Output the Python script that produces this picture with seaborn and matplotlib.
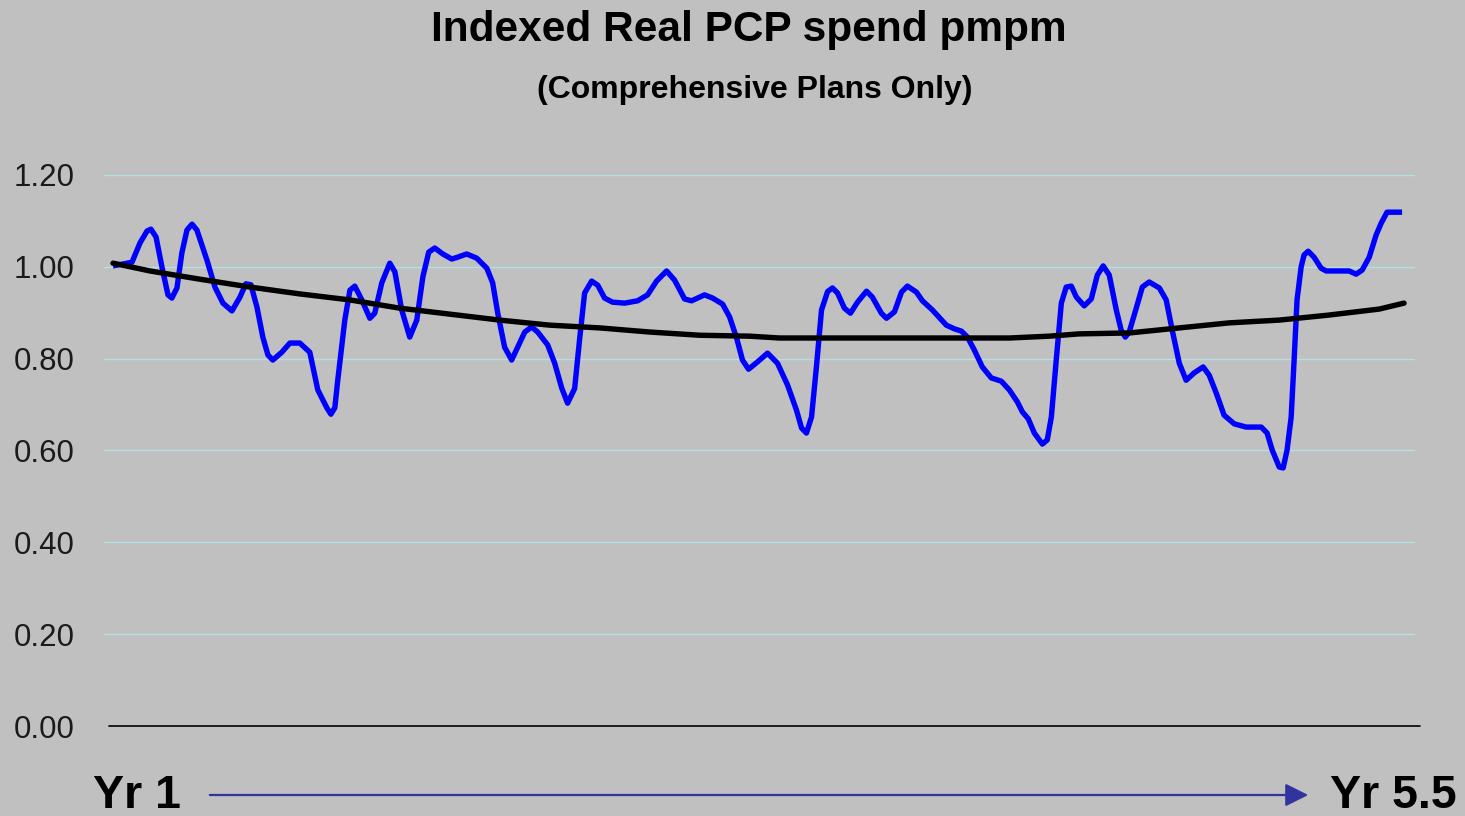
import pandas as pd
import matplotlib.pyplot as plt
from matplotlib.patches import FancyArrowPatch
import seaborn as sns

# months since start of Yr 1
spend_month = [0.00, 0.97, 1.38, 1.74, 1.94, 2.20, 2.50, 2.81, 3.01, 3.27, 3.52, 3.78, 4.04,
               4.29, 4.80, 5.21, 5.62, 6.08, 6.49, 6.79, 7.05, 7.36, 7.66, 7.92, 8.17, 8.63,
               9.04, 9.55, 10.06, 10.47, 10.93, 11.14, 11.34, 11.49, 11.85, 12.11, 12.36,
               12.72, 13.13, 13.38, 13.74, 14.15, 14.41, 14.76, 15.17, 15.53, 15.84, 16.14,
               16.45, 16.86, 17.32, 17.62, 18.08, 18.59, 19.11, 19.41, 19.67, 20.02, 20.38,
               20.69, 21.05, 21.40, 21.71, 22.22, 22.58, 22.94, 23.24, 23.60, 23.86, 24.11,
               24.47, 24.78, 25.13, 25.54, 26.16, 26.82, 27.33, 27.79, 28.30, 28.71, 29.22,
               29.58, 30.24, 30.65, 31.16, 31.52, 31.88, 32.18, 32.49, 32.95, 33.46, 33.97,
               34.48, 34.94, 35.20, 35.45, 35.71, 35.96, 36.22, 36.53, 36.78, 37.04, 37.39,
               37.70, 38.06, 38.52, 38.82, 39.28, 39.54, 39.95, 40.31, 40.61, 41.07, 41.38,
               41.89, 42.60, 43.01, 43.37, 43.68, 44.03, 44.44, 44.90, 45.41, 45.82, 46.23,
               46.49, 46.79, 47.10, 47.51, 47.76, 47.97, 48.22, 48.48, 48.73, 48.99, 49.25,
               49.65, 50.01, 50.32, 50.62, 50.93, 51.29, 51.54, 51.75, 51.95, 52.31, 52.62,
               52.97, 53.49, 53.84, 54.15, 54.51, 54.86, 55.27, 55.73, 56.04, 56.40, 56.80,
               57.32, 57.93, 58.70, 59.00, 59.26, 59.62, 59.82, 60.02, 60.23, 60.38, 60.53,
               60.74, 60.89, 61.10, 61.40, 61.76, 62.02, 63.19, 63.55, 63.86, 64.22, 64.57,
               64.83, 65.13, 65.90]
spend_index = [1.002, 1.010, 1.052, 1.078, 1.082, 1.065, 1.000, 0.939, 0.932, 0.954, 1.030, 1.080, 1.093,
               1.080, 1.015, 0.956, 0.921, 0.904, 0.934, 0.963, 0.961, 0.912, 0.847, 0.808, 0.797, 0.814,
               0.834, 0.834, 0.814, 0.732, 0.693, 0.679, 0.693, 0.753, 0.884, 0.949, 0.958,
               0.928, 0.888, 0.899, 0.965, 1.008, 0.989, 0.906, 0.847, 0.884, 0.978, 1.032,
               1.041, 1.028, 1.017, 1.021, 1.028, 1.019, 0.997, 0.965, 0.899, 0.825, 0.797,
               0.825, 0.858, 0.869, 0.858, 0.830, 0.790, 0.736, 0.703, 0.735, 0.845, 0.943,
               0.969, 0.960, 0.932, 0.923, 0.921, 0.926, 0.939, 0.969, 0.991, 0.971, 0.930,
               0.926, 0.939, 0.932, 0.919, 0.891, 0.845, 0.797, 0.777, 0.793, 0.812, 0.790,
               0.743, 0.688, 0.649, 0.638, 0.673, 0.782, 0.906, 0.946, 0.954, 0.943, 0.910,
               0.899, 0.923, 0.947, 0.934, 0.899, 0.888, 0.902, 0.945, 0.958, 0.945, 0.926,
               0.906, 0.873, 0.865, 0.860, 0.847, 0.819, 0.782, 0.758, 0.751, 0.732, 0.706,
               0.684, 0.669, 0.638, 0.614, 0.623, 0.673, 0.797, 0.921, 0.956, 0.958, 0.934,
               0.915, 0.930, 0.982, 1.002, 0.982, 0.906, 0.862, 0.847, 0.858, 0.910, 0.956,
               0.967, 0.954, 0.928, 0.862, 0.790, 0.753, 0.769, 0.782, 0.764, 0.725, 0.677,
               0.658, 0.651, 0.651, 0.638, 0.601, 0.564, 0.562, 0.601, 0.673, 0.797, 0.928,
               1.000, 1.026, 1.034, 1.021, 0.997, 0.991, 0.991, 0.984, 0.993, 1.021, 1.069,
               1.095, 1.119, 1.119]

trend_month = [0.0, 1.89, 4.45, 7.0, 9.55, 12.1, 14.66, 17.21, 19.77, 22.32, 24.88, 27.43,
               29.99, 32.54, 34.07, 45.82, 47.87, 49.40, 51.96, 54.51, 57.07, 59.62, 62.17,
               64.73, 66.0]
trend_index = [1.008, 0.991, 0.973, 0.956, 0.941, 0.928, 0.910, 0.897, 0.884, 0.873, 0.867, 0.858,
               0.851, 0.849, 0.845, 0.845, 0.849, 0.854, 0.856, 0.867, 0.878, 0.884, 0.895,
               0.908, 0.921]

y_ticks = [0.0, 0.2, 0.4, 0.6, 0.8, 1.0, 1.2]

sns.set_style("white")
plt.rcParams['font.family'] = ['Liberation Sans', 'DejaVu Sans']
plt.rcParams['text.color'] = 'black'

fig = plt.figure(figsize=(14.65, 8.16), dpi=100, facecolor='#C0C0C0')
ax = fig.add_axes([104 / 1465, 1 - 726 / 816, (1415 - 104) / 1465, (726 - 175) / 816])
ax.set_facecolor('#C0C0C0')

spend = pd.DataFrame({'month': spend_month, 'index': spend_index})
trend = pd.DataFrame({'month': trend_month, 'index': trend_index})

# light cyan gridlines, black baseline at zero
for y in y_ticks[1:]:
    ax.axhline(y, color='#B4E0E4', lw=1, zorder=0)
ax.plot([-0.2, 66.8], [0, 0], color='black', lw=1.2, clip_on=False, zorder=1)

sns.lineplot(data=spend, x='month', y='index', ax=ax, color='#0000FF', lw=3.9,
             solid_joinstyle='round', solid_capstyle='butt', zorder=3)
sns.lineplot(data=trend, x='month', y='index', ax=ax, color='black', lw=3.9,
             solid_joinstyle='round', zorder=4)

ax.set_xlim(-0.46, 66.56)
ax.set_ylim(0, 1.2)
ax.set_yticks(y_ticks)
ax.set_yticklabels([f"{v:.2f}" for v in y_ticks], fontsize=22.5, color='#1a1a1a')
ax.tick_params(axis='y', length=0, pad=21)
ax.set_xticks([])
ax.set_xlabel('')
ax.set_ylabel('')
for s in ax.spines.values():
    s.set_visible(False)

fig.text(749 / 1465, 1 - 30 / 816, 'Indexed Real PCP spend pmpm', ha='center', va='center',
         fontsize=30.5, fontweight='bold')
fig.text(755 / 1465, 1 - 90 / 816, '(Comprehensive Plans Only)', ha='center', va='center',
         fontsize=23, fontweight='bold')

fig.text(137 / 1465, 1 - 796 / 816, 'Yr 1', ha='center', va='center', fontsize=33.5, fontweight='bold')
fig.text(1393 / 1465, 1 - 796 / 816, 'Yr 5.5', ha='center', va='center', fontsize=33.5, fontweight='bold')
fig.patches.append(FancyArrowPatch(
    (207 / 1465, 1 - 795 / 816), (1311 / 1465, 1 - 795 / 816), transform=fig.transFigure,
    arrowstyle='-|>,head_length=14,head_width=7', color='#3333A0', lw=1.6, mutation_scale=1))

fig.savefig('out.png', dpi=100, facecolor='#C0C0C0')
